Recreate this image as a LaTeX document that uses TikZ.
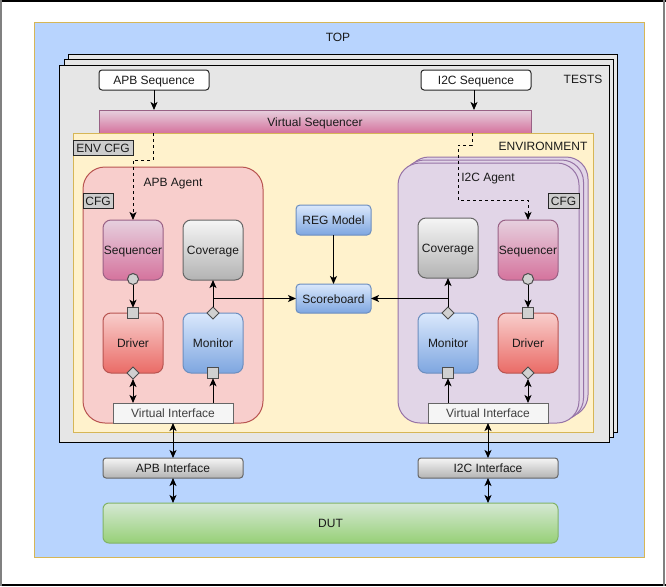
\documentclass[tikz,border=0pt]{standalone}
\usepackage{fontspec}
\setmainfont{Liberation Sans}
\usetikzlibrary{arrows.meta,shapes.geometric}
\definecolor{txt}{HTML}{1A1A1A}
\definecolor{topfill}{HTML}{B8D4FE}
\definecolor{tanline}{HTML}{D6B656}
\definecolor{testfill}{HTML}{E6E6E6}
\definecolor{envfill}{HTML}{FFF2CC}
\definecolor{apbfill}{HTML}{F8CECC}
\definecolor{apbline}{HTML}{B85450}
\definecolor{i2cfill}{HTML}{E1D5E7}
\definecolor{i2cline}{HTML}{9673A6}
\definecolor{seqtop}{HTML}{E6D0DE}
\definecolor{seqbot}{HTML}{D5739D}
\definecolor{seqline}{HTML}{996185}
\definecolor{graytop}{HTML}{F5F5F5}
\definecolor{graybot}{HTML}{B3B3B3}
\definecolor{grayline}{HTML}{666666}
\definecolor{drvtop}{HTML}{F8CECC}
\definecolor{drvbot}{HTML}{EA6B66}
\definecolor{montop}{HTML}{DAE8FC}
\definecolor{monbot}{HTML}{7EA6E0}
\definecolor{monline}{HTML}{6C8EBF}
\definecolor{duttop}{HTML}{D5E8D4}
\definecolor{dutbot}{HTML}{97D077}
\definecolor{dutline}{HTML}{82B366}
\definecolor{portfill}{HTML}{D0D0D0}
\definecolor{cfgfill}{HTML}{CCCCCC}
\begin{document}
\begin{tikzpicture}[x=1pt,y=-1pt,line width=1pt,
  font=\fontsize{12}{14}\selectfont,
  every node/.style={inner sep=0pt,outer sep=0pt,text=txt,text height=9pt,text depth=0pt},
  blk/.style={draw,rectangle,align=center},
  seqbox/.style={blk,rounded corners=8pt,draw=seqline,top color=seqtop,bottom color=seqbot,minimum width=60pt,minimum height=60pt},
  covbox/.style={blk,rounded corners=8pt,draw=grayline,top color=graytop,bottom color=graybot,minimum width=60pt,minimum height=60pt},
  drvbox/.style={blk,rounded corners=8pt,draw=apbline,top color=drvtop,bottom color=drvbot,minimum width=60pt,minimum height=60pt},
  monbox/.style={blk,rounded corners=8pt,draw=monline,top color=montop,bottom color=monbot,minimum width=60pt,minimum height=60pt},
  vibox/.style={blk,draw=grayline,fill=graytop,minimum width=120pt,minimum height=20pt,text=black!75},
  ifbox/.style={blk,rounded corners=3pt,draw=grayline,top color=graytop,bottom color=graybot,minimum width=140pt,minimum height=20pt},
  tseqbox/.style={blk,rounded corners=3pt,draw=black!85,fill=white,minimum width=110pt,minimum height=20pt},
  cfgbox/.style={blk,draw=black!85,fill=cfgfill,minimum height=15pt},
  bluebox/.style={blk,rounded corners=4pt,draw=monline,top color=montop,bottom color=monbot,minimum width=75pt},
  portc/.style={circle,draw=black!70,fill=portfill,minimum size=11pt,text height=0pt},
  ports/.style={rectangle,draw=black!70,fill=portfill,minimum size=10.5pt,text height=0pt},
  portd/.style={diamond,draw=black!70,fill=portfill,minimum width=12pt,minimum height=12pt,text height=0pt},
  arr/.style={-{Stealth[length=8pt,width=7pt,inset=2pt]},black},
  darr/.style={{Stealth[length=8pt,width=7pt,inset=2pt]}-{Stealth[length=8pt,width=7pt,inset=2pt]},black},
  dasharr/.style={arr,dash pattern=on 3pt off 3pt}]
\useasboundingbox (0,0) rectangle (666,586);
\fill[white] (0,0) rectangle (666,586);
% outer frame
\draw[black,line width=2pt] (0,1) -- (666,1);
\draw[black,line width=2pt] (0,585) -- (666,585);
\draw[black!50,line width=2pt] (1,0) -- (1,586);
\draw[black!50,line width=2pt] (664,0) -- (664,586);
% TOP
\draw[draw=tanline,fill=topfill] (34,23) rectangle (644,557);
\node (toplbl) at (338,37) {TOP};
% TESTS stack
\draw[fill=testfill] (68,55) rectangle (617,432);
\draw[fill=testfill] (64,60) rectangle (613,437);
\draw[fill=testfill] (59,65) rectangle (609,442);
\node (testslbl) at (583,79) {TESTS};
\node[tseqbox] (apbsq) at (154,80) {APB Sequence};
\node[tseqbox] (i2csq) at (476,80) {I2C Sequence};
\node[blk,draw=seqline,top color=seqtop,bottom color=seqbot,minimum width=432pt,minimum height=23pt] (vseq) at (315,121.5) {Virtual Sequencer};
% ENVIRONMENT
\draw[draw=tanline,fill=envfill] (73.5,133.5) rectangle (593,432.5);
\node (envlbl) at (543,146) {ENVIRONMENT};
\node[cfgbox,minimum width=60pt] (envcfg) at (103,148) {ENV CFG};
% APB agent
\draw[draw=apbline,fill=apbfill,rounded corners=22pt] (83,167) rectangle (263,423);
\node (apblbl) at (173,182) {APB Agent};
\node[cfgbox,minimum width=30pt] (apbcfg) at (98,200.5) {CFG};
\node[seqbox] (apbseq) at (133,250) {Sequencer};
\node[covbox] (apbcov) at (213,250) {Coverage};
\node[drvbox] (apbdrv) at (133,343) {Driver};
\node[monbox] (apbmon) at (213,343) {Monitor};
\node[vibox] (apbvi) at (173,413) {Virtual Interface};
% I2C agent stack
\draw[draw=i2cline,fill=i2cfill,rounded corners=22pt] (407,157) rectangle (588,417);
\draw[draw=i2cline,fill=i2cfill,rounded corners=22pt] (402.5,160) rectangle (583.5,420);
\draw[draw=i2cline,fill=i2cfill,rounded corners=22pt] (398,163) rectangle (579,423);
\node (i2clbl) at (488,177) {I2C Agent};
\node[cfgbox,minimum width=31pt] (i2ccfg) at (563.5,200.5) {CFG};
\node[covbox] (i2ccov) at (448,248) {Coverage};
\node[seqbox] (i2cseq) at (528,250) {Sequencer};
\node[monbox] (i2cmon) at (448,343) {Monitor};
\node[drvbox] (i2cdrv) at (528,343) {Driver};
\node[vibox] (i2cvi) at (488,413) {Virtual Interface};
% REG / scoreboard
\node[bluebox,minimum height=30pt] (regm) at (333.5,220) {REG Model};
\node[bluebox,minimum height=29pt] (sb) at (333.5,298.5) {Scoreboard};
% bottom
\node[ifbox] (apbif) at (173,468) {APB Interface};
\node[ifbox] (i2cif) at (488,468) {I2C Interface};
\node[blk,rounded corners=6pt,draw=dutline,top color=duttop,bottom color=dutbot,minimum width=455pt,minimum height=40pt] (dut) at (330.5,523) {DUT};
% ports
\node[portc] (apbseqc) at (133,279) {};
\node[ports] (apbdrvs) at (133,313) {};
\node[portd] (apbdrvd) at (133,373) {};
\node[portd] (apbmond) at (213,313) {};
\node[ports] (apbmons) at (213,373) {};
\node[portc] (i2cseqc) at (528,279) {};
\node[ports] (i2cdrvs) at (528,313) {};
\node[portd] (i2cdrvd) at (528,373) {};
\node[portd] (i2cmond) at (448,313) {};
\node[ports] (i2cmons) at (448,373) {};
% connectors
\draw[arr] (apbsq.south) -- (apbsq.south |- vseq.north);
\coordinate (i2cx) at (474,90);
\draw[arr] (i2cx) -- (i2cx |- vseq.north);
\coordinate (d1) at (153,160);
\draw[dasharr] (vseq.south -| d1) -- (d1) -| (apbseq.north);
\coordinate (d2) at (472,145);
\coordinate (d3) at (458,200);
\draw[dasharr] (vseq.south -| d2) -- (d2) -| (d3) -| (i2cseq.north);
\draw[arr] (apbseqc.south) -- (apbdrvs.north);
\draw[darr] (apbdrvd.south) -- (apbdrvd.south |- apbvi.north);
\draw[arr] (apbmons.south |- apbvi.north) -- (apbmons.south);
\draw[arr] (apbmond.north) -- (apbcov.south);
\draw[arr] (apbmond.north |- sb.west) -- (sb.west);
\draw[arr] (regm.south) -- (sb.north);
\draw[arr] (i2cmond.north |- sb.east) -- (sb.east);
\draw[arr] (i2cmond.north) -- (i2ccov.south);
\draw[arr] (i2cseqc.south) -- (i2cdrvs.north);
\draw[darr] (i2cdrvd.south) -- (i2cdrvd.south |- i2cvi.north);
\draw[arr] (i2cmons.south |- i2cvi.north) -- (i2cmons.south);
\draw[darr] (apbvi.south) -- (apbif.north);
\draw[darr] (apbif.south) -- (apbif.south |- dut.north);
\draw[darr] (i2cvi.south) -- (i2cif.north);
\draw[darr] (i2cif.south) -- (i2cif.south |- dut.north);
\end{tikzpicture}
\end{document}
